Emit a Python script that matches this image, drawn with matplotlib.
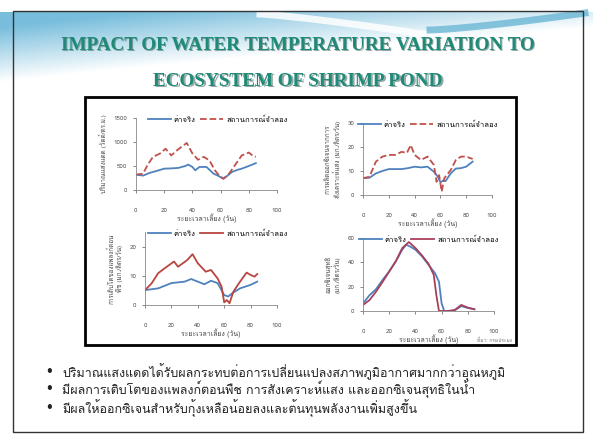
import numpy as np
import matplotlib
matplotlib.use('Agg')
import matplotlib.pyplot as plt
from matplotlib import font_manager
from matplotlib.ft2font import FT2Font
from matplotlib.patches import Rectangle

W, H = 593, 437

# ---- data ----
title_lines = ["IMPACT OF WATER TEMPERATURE VARIATION TO", "ECOSYSTEM OF SHRIMP POND"]
legend_labels = ["ค่าจริง", "สถานการณ์จำลอง"]
x_label = "ระยะเวลาเลี้ยง (วัน)"
y_labels = [
    "ปริมาณแสงแดด (วัตต์/ตร.ม.)",
    "การผลิตออกซิเจนจากการ\nสังเคราะห์แสง (มก./ลิตร/วัน)",
    "การเติบโตของแพลงก์ตอน\nพืช (มก./ลิตร/วัน)",
    "ออกซิเจนสุทธิ\n(มก./ลิตร/วัน)",
]
bullets = [
    "ปริมาณแสงแดดได้รับผลกระทบต่อการเปลี่ยนแปลงสภาพภูมิอากาศมากกว่าอุณหภูมิ",
    "มีผลการเติบโตของแพลงก์ตอนพืช การสังเคราะห์แสง และออกซิเจนสุทธิในน้ำ",
    "มีผลให้ออกซิเจนสำหรับกุ้งเหลือน้อยลงและต้นทุนพลังงานเพิ่มสูงขึ้น",
]
x_ticks = [0, 20, 40, 60, 80, 100]

# chart 1: sunlight
sun_real_day = [0, 5, 10, 15, 20, 25, 30, 35, 37, 40, 42, 45, 50, 55, 58, 62, 65, 68, 72, 75, 80, 85]
sun_real = [320, 300, 360, 400, 445, 450, 460, 500, 530, 480, 410, 480, 480, 340, 300, 235, 300, 375, 420, 445, 500, 560]
sun_sim_day = [0, 5, 8, 12, 17, 21, 25, 30, 36, 40, 44, 48, 52, 56, 59, 62, 66, 70, 75, 80, 83, 85]
sun_sim = [320, 340, 510, 690, 760, 860, 720, 850, 980, 760, 630, 690, 620, 410, 300, 235, 340, 510, 720, 780, 710, 690]

# chart 2: photosynthesis oxygen
ps_real_day = [0, 5, 10, 15, 20, 25, 30, 35, 40, 45, 50, 55, 58, 60, 62, 64, 68, 72, 76, 80, 85]
ps_real = [7, 7.2, 9, 10, 10.8, 10.8, 10.8, 11.2, 11.8, 11.5, 11.8, 9.7, 7.6, 5.3, 6, 5.8, 9, 11, 11.2, 11.8, 13.9]
ps_sim_day = [0, 5, 10, 15, 20, 25, 30, 34, 37, 40, 45, 50, 55, 57, 59, 61, 63, 68, 72, 76, 80, 85]
ps_sim = [7, 7.6, 13.9, 16, 16.7, 16.7, 18, 17.5, 20.8, 16.7, 14.6, 16, 12.5, 5.5, 8.3, 1.4, 7, 10.4, 14.6, 16, 16, 15]

# chart 3: phytoplankton growth
pg_real_day = [0, 10, 20, 30, 35, 40, 45, 50, 55, 60, 63, 66, 72, 80, 85]
pg_real = [5.1, 5.7, 7.5, 8, 8.9, 8, 7.1, 8.3, 7.5, 3.4, 2.9, 4, 5.7, 6.9, 8]
pg_sim_day = [0, 5, 10, 15, 22, 25, 32, 36, 40, 46, 50, 55, 58, 60, 62, 64, 67, 72, 77, 80, 83, 85]
pg_sim = [5.1, 7.4, 10.9, 12.6, 14.9, 13.1, 15.4, 17.4, 14.3, 11.4, 12, 9.1, 6.3, 0.9, 1.7, 0.6, 4.6, 8, 11.1, 10.3, 9.7, 10.6]

# chart 4: net oxygen
ox_real_day = [0, 5, 10, 15, 20, 25, 30, 33, 36, 40, 45, 50, 55, 58, 60, 62, 65, 70, 75, 80, 85]
ox_real = [6.3, 13, 18, 25.6, 32.5, 40.8, 50.4, 54.5, 53, 50.4, 45, 38, 31, 24, 6.3, 0, 0, 0.5, 4, 2.5, 1.5]
ox_sim_day = [0, 5, 10, 15, 20, 25, 30, 35, 40, 45, 50, 54, 56, 58, 65, 70, 75, 80, 85]
ox_sim = [5, 9, 16, 24, 32.5, 40.8, 51.8, 56.7, 51.8, 45.7, 38.8, 29.8, 13, 0, 0, 0.8, 5, 2.8, 1.4]


def find_thai_family():
    for f in font_manager.fontManager.ttflist:
        try:
            if 0x0E01 in FT2Font(f.fname).get_charmap():
                return f.name
        except Exception:
            pass
    return 'DejaVu Sans'


thai = find_thai_family()
plt.rcParams['font.family'] = [thai, 'DejaVu Sans']

fig = plt.figure(figsize=(W / 100, H / 100), dpi=100)
fig.patch.set_facecolor('white')

# background axes in pixel coordinates
bg = fig.add_axes([0, 0, 1, 1])
bg.set_xlim(0, W)
bg.set_ylim(H, 0)
bg.axis('off')

# light blue swoosh at the top of the slide
yy, xx = np.mgrid[0:100, 0:W]
curve = 82 - 55 * (xx / W) ** 0.9
alpha = np.clip((curve - yy) / 55, 0, 1) * 0.85
alpha[yy < 12] = 0
grad = np.zeros((100, W, 4))
grad[..., 0] = 0.38
grad[..., 1] = 0.70
grad[..., 2] = 0.84
grad[..., 3] = alpha
bg.imshow(grad, extent=(0, W, 100, 0), aspect='auto', zorder=0)
sx = np.linspace(260, 450, 60)
bg.plot(sx, 14 + 24 * ((sx - 260) / 190) ** 1.2, color='white', lw=5, alpha=0.85, zorder=1)
bx = np.linspace(430, 585, 60)
bg.plot(bx, 30 - 17 * ((bx - 430) / 155) ** 1.3, color='#5aaed0', lw=5, alpha=0.7, zorder=1)

bg.add_patch(Rectangle((13, 11), 570, 421, fill=False, ec='#333333', lw=1.0, zorder=2))
bg.add_patch(Rectangle((85, 97), 431, 248, fill=False, ec='black', lw=2.0, zorder=2))

# title with shadow
for line, y in zip(title_lines, [45, 81]):
    kw = dict(ha='center', va='center', fontsize=13.8, fontweight='bold',
              family='Liberation Serif')
    bg.text(298 + 1.3, y + 1.3, line, color='#50706c', alpha=0.6, zorder=3, **kw)
    bg.text(298, y, line, color='#1f8a78', zorder=4, **kw)

# bullets
for text, y in zip(bullets, [372, 389, 408]):
    bg.text(49, y, "•", ha='center', va='center', fontsize=9, color='#222222')
    bg.text(62, y, text, ha='left', va='center', fontsize=9, color='#222222')

bg.text(512, 340, "ที่มา: กรมประมง", ha='right', va='center', fontsize=3.5, color='#777777')


def px_rect(x0, yt, x1, yb):
    return [x0 / W, 1 - yb / H, (x1 - x0) / W, (yb - yt) / H]


charts = [
    (px_rect(136, 118, 277, 190), sun_real_day, sun_real, sun_sim_day, sun_sim, (0, 1500), [0, 500, 1000, 1500], '--', '#c0504d', 0.58),
    (px_rect(363, 123, 492, 195), ps_real_day, ps_real, ps_sim_day, ps_sim, (0, 30), [0, 10, 20, 30], '--', '#c0504d', 0.5),
    (px_rect(145, 232, 277, 305), pg_real_day, pg_real, pg_sim_day, pg_sim, (0, 25), [0, 10, 20], '-', '#b8453f', 0.55),
    (px_rect(363, 238, 494, 311), ox_real_day, ox_real, ox_sim_day, ox_sim, (0, 60), [0, 20, 40, 60], '-', '#a8405a', 0.5),
]

for i, (rect, rd, rv, sd, sv, ylim, yt, sim_ls, sim_col, lx) in enumerate(charts):
    ax = fig.add_axes(rect)
    ax.set_facecolor('none')
    ax.plot(rd, rv, color='#4f81bd', lw=1.3, label=legend_labels[0])
    ax.plot(sd, sv, color=sim_col, lw=1.3, ls=sim_ls, label=legend_labels[1])
    ax.set_xlim(0, 100)
    ax.set_ylim(*ylim)
    ax.set_xticks(x_ticks)
    ax.set_yticks(yt)
    ax.tick_params(axis='both', labelsize=4.5, length=2, width=0.5, colors='#555555')
    ax.tick_params(axis='x', pad=11)
    ax.tick_params(axis='y', pad=4)
    for s in ['top', 'right']:
        ax.spines[s].set_visible(False)
    for s in ['left', 'bottom']:
        ax.spines[s].set_color('#888888')
        ax.spines[s].set_linewidth(0.6)
    ax.set_xlabel(x_label, fontsize=5, color='#444444', labelpad=0)
    ax.set_ylabel(y_labels[i], fontsize=4.5, color='#444444', labelpad=5)
    ax.legend(loc='upper center', bbox_to_anchor=(lx, 1.06), ncol=2, frameon=False,
              fontsize=5.5, handlelength=3, handletextpad=0.4, columnspacing=0.6,
              borderaxespad=0)

fig.savefig('out.png', dpi=100, facecolor='white')
